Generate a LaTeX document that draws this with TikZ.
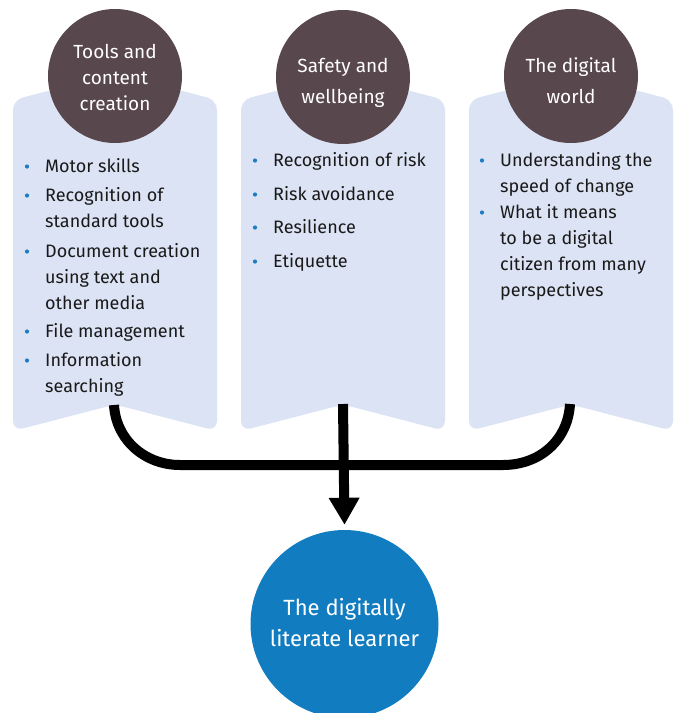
\documentclass[tikz,border=0pt]{standalone}
\usepackage{fontspec}
\setmainfont{Fira Sans}
\usetikzlibrary{arrows.meta}
\definecolor{panelfill}{RGB}{220,227,244}
\definecolor{circdark}{RGB}{89,71,78}
\definecolor{learnerblue}{RGB}{17,124,192}
\definecolor{bulletblue}{RGB}{28,125,196}
\definecolor{textdark}{RGB}{25,25,25}
\tikzset{
  panel/.style={fill=panelfill, rounded corners=10pt},
  topic/.style={circle, fill=circdark, minimum size=134pt, inner sep=0pt},
  topictext/.style={text=white, align=center, inner sep=0pt, anchor=base,
    font=\fontsize{19}{26}\selectfont},
  topictextwide/.style={topictext, font=\fontsize{19}{31}\selectfont},
  item/.style={text=textdark, align=left, inner sep=0pt, anchor=base west,
    font=\fontsize{18}{26}\selectfont},
  dot/.style={circle, fill=bulletblue, minimum size=4.2pt, inner sep=0pt},
  link/.style={line width=10pt, black},
  learner/.style={circle, fill=learnerblue, minimum size=188pt, inner sep=0pt},
}
\begin{document}
\begin{tikzpicture}[x=1pt,y=-1pt]
\useasboundingbox (0,0) rectangle (676,713);
\clip (0,0) rectangle (676,713);
% panels
\path[panel] (13,100) -- (115,73.5) -- (217,100) -- (217,431) -- (115,404.5) -- (13,431) -- cycle;
\path[panel] (241,100) -- (343,73.5) -- (445,100) -- (445,431) -- (343,404.5) -- (241,431) -- cycle;
\path[panel] (469,100) -- (571,73.5) -- (673,100) -- (673,431) -- (571,404.5) -- (469,431) -- cycle;
\coordinate (notch1) at (114,405);
\coordinate (notch2) at (343,404);
\coordinate (notch3) at (570,404);
\coordinate (join1) at (180,465);
\coordinate (join3) at (503,465);
% topic circles
\node[topic] (c1) at (115,76) {};
\node[topic] (c2) at (343,77) {};
\node[topic] (c3) at (571,76) {};
% (base anchor = baseline of the last line)
\node[topictext] (t1) at (115,110) {Tools and\\content\\creation};
\node[topictextwide] (t2) at (343,103) {Safety and\\wellbeing};
\node[topictextwide] (t3) at (571,103) {The digital\\world};
% panel 1 items
\node[item] (a1) at (45,172) {Motor skills};
\node[item] (a2) at (45,227) {Recognition of\\standard tools};
\node[item] (a3) at (45,309) {Document creation\\using text and\\other media};
\node[item] (a4) at (45,337) {File management};
\node[item] (a5) at (45,392) {Information\\searching};
\foreach \y [count=\i] in {172,201,257,337,366}
  \node[dot] (da\i) at (27,\y-5.5) {};
% panel 2 items
\node[item] (b1) at (273,166) {Recognition of risk};
\node[item] (b2) at (273,200) {Risk avoidance};
\node[item] (b3) at (273,233) {Resilience};
\node[item] (b4) at (273,267) {Etiquette};
\foreach \y [count=\i] in {166,200,233,267}
  \node[dot] (db\i) at (255,\y-5.5) {};
% panel 3 items
\node[item] (e1) at (500,192) {Understanding the\\speed of change};
\node[item] (e2) at (500,296) {What it means\\to be a digital\\citizen from many\\perspectives};
\foreach \y [count=\i] in {166,218}
  \node[dot] (de\i) at (482,\y-5.5) {};
% learner
\node[learner] (learner) at (344.5,624) {};
\node[text=white, align=center, inner sep=0pt, anchor=base,
  font=\fontsize{22}{31}\selectfont] (lt) at (344.5,646) {The digitally\\literate learner};
% connectors
\draw[link] (notch1) .. controls (116,440) and (145,465) .. (join1) -- (join3)
  .. controls (540,465) and (568,440) .. (notch3);
\draw[link, -{Triangle[width=29pt,length=27pt]}] (notch2) -- ([yshift=5pt]learner.north);
\end{tikzpicture}
\end{document}
